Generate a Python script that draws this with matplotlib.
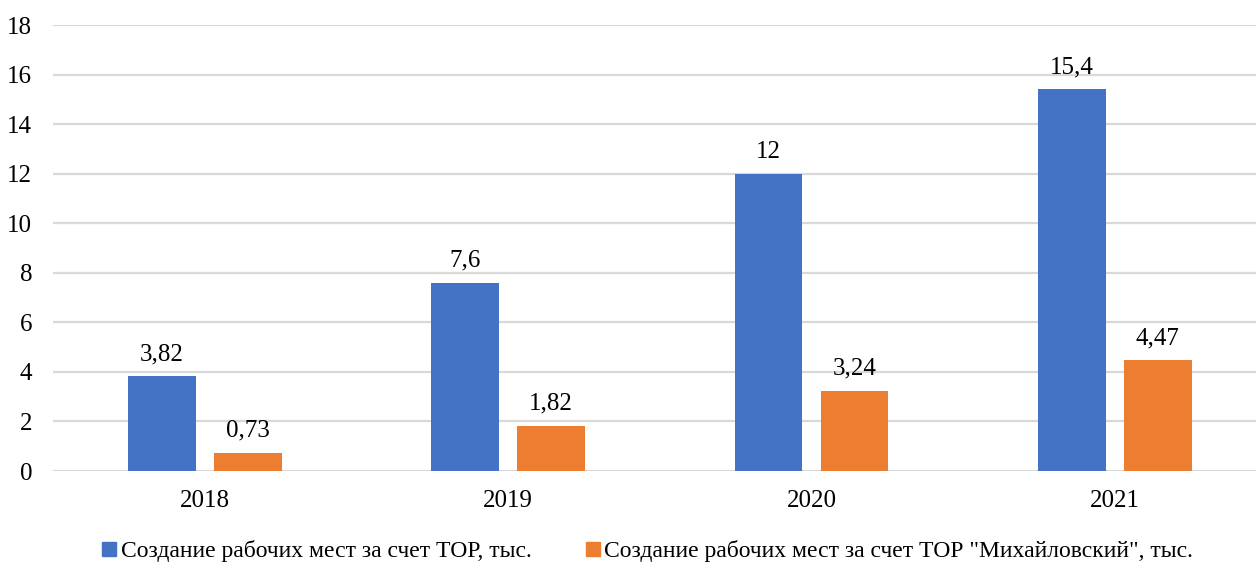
import numpy as np
import matplotlib.pyplot as plt
from matplotlib.patches import Patch

years = ['2018', '2019', '2020', '2021']
tor_all = [3.82, 7.6, 12, 15.4]
tor_mikh = [0.73, 1.82, 3.24, 4.47]
labels_all = ['3,82', '7,6', '12', '15,4']
labels_mikh = ['0,73', '1,82', '3,24', '4,47']
series_names = ['Создание рабочих мест за счет ТОР, тыс.',
                'Создание рабочих мест за счет ТОР "Михайловский", тыс.']

blue = '#4472C4'
orange = '#ED7D31'

plt.rcParams['font.family'] = ['Liberation Serif', 'DejaVu Serif']

fig = plt.figure(figsize=(12.56, 5.62), dpi=100)
ax = fig.add_axes([53 / 1256, 1 - 471 / 562, 1 - 53 / 1256, (471 - 25) / 562])

x = np.arange(len(years))
w = 0.224
off = 0.1417
b1 = ax.bar(x - off, tor_all, w, color=blue, zorder=3)
b2 = ax.bar(x + off, tor_mikh, w, color=orange, zorder=3)

for bars, labs in [(b1, labels_all), (b2, labels_mikh)]:
    for rect, lab in zip(bars, labs):
        ax.annotate(lab, (rect.get_x() + rect.get_width() / 2, rect.get_height()),
                    xytext=(0, 8), textcoords='offset points',
                    ha='center', va='bottom', fontsize=18)

ax.set_xlim(-0.5, -0.5 + 1203 / 303.4)
ax.set_ylim(0, 18)
ax.set_yticks(range(0, 19, 2))
ax.set_xticks(x)
ax.set_xticklabels(years)
ax.tick_params(length=0, labelsize=18)
ax.tick_params(axis='x', pad=14)
ax.tick_params(axis='y', pad=15)
ax.yaxis.grid(True, color='#d9d9d9', linewidth=1.6, zorder=0)
ax.set_axisbelow(True)
for s in ax.spines.values():
    s.set_visible(False)

handles = [Patch(color=blue), Patch(color=orange)]
fig.legend(handles, series_names, loc='center', bbox_to_anchor=(0.5155, 0.019),
           ncol=2, frameon=False, fontsize=17, handlelength=0.6, handleheight=0.6,
           handletextpad=0.2, columnspacing=2.3)

fig.savefig('out.png', dpi=100)
